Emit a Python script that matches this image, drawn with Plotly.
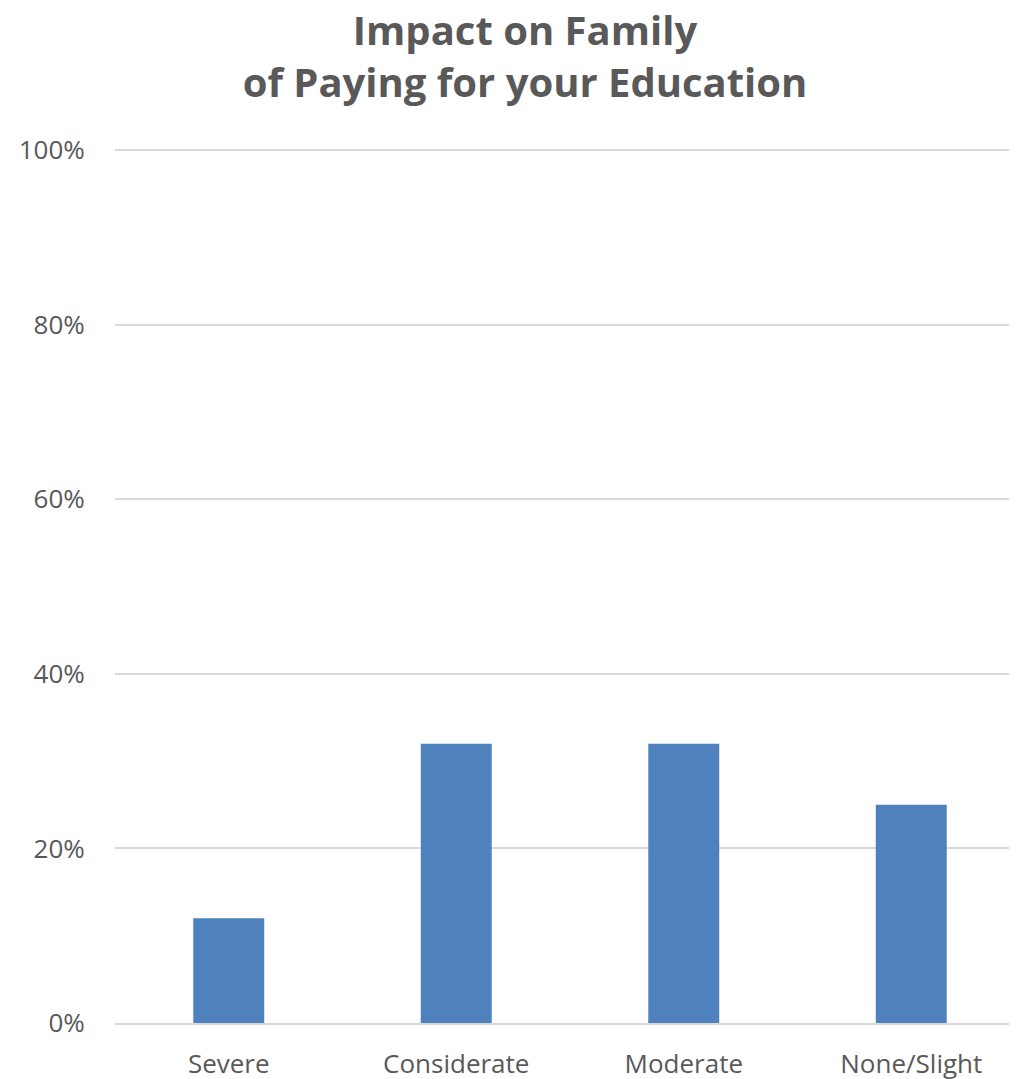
import plotly.graph_objects as go

categories = ["Severe", "Considerate", "Moderate", "None/Slight"]
values = [0.12, 0.32, 0.32, 0.25]
y_ticks = [0, 0.2, 0.4, 0.6, 0.8, 1.0]
y_tick_labels = ["0%", "20%", "40%", "60%", "80%", "100%"]

fig = go.Figure(go.Bar(
    x=list(range(len(categories))), y=values,
    marker=dict(color="#4F81BD", line=dict(width=0)),
    width=0.312,
))

fig.update_layout(
    width=1009, height=1071,
    margin=dict(l=107, r=2, t=141, b=56, autoexpand=False),
    paper_bgcolor="white", plot_bgcolor="white",
    showlegend=False,
    title=dict(
        text="<b>Impact on Family<br>of Paying for your Education</b>",
        x=0.5124, xanchor="center", y=0.9655, yanchor="top",
        font=dict(family="Open Sans", size=40, color="#595959"),
    ),
    font=dict(family="Open Sans", color="#595959"),
    xaxis=dict(
        tickmode="array", tickvals=list(range(len(categories))), ticktext=categories,
        range=[-0.5, 3.456], showgrid=False, showline=True, linecolor="#D9D9D9",
        linewidth=1.5, tickfont=dict(size=26, color="#595959"), ticks="outside",
        ticklen=17, tickcolor="rgba(0,0,0,0)", automargin=False,
        fixedrange=True,
    ),
    yaxis=dict(
        tickmode="array", tickvals=y_ticks, ticktext=y_tick_labels,
        range=[0, 1.0015], showgrid=True, gridcolor="#D9D9D9", gridwidth=1.5,
        zeroline=False, tickfont=dict(size=26, color="#595959"), ticks="outside",
        ticklen=24, tickcolor="rgba(0,0,0,0)", showline=False, automargin=False,
    ),
)

fig.write_html("out.html")
